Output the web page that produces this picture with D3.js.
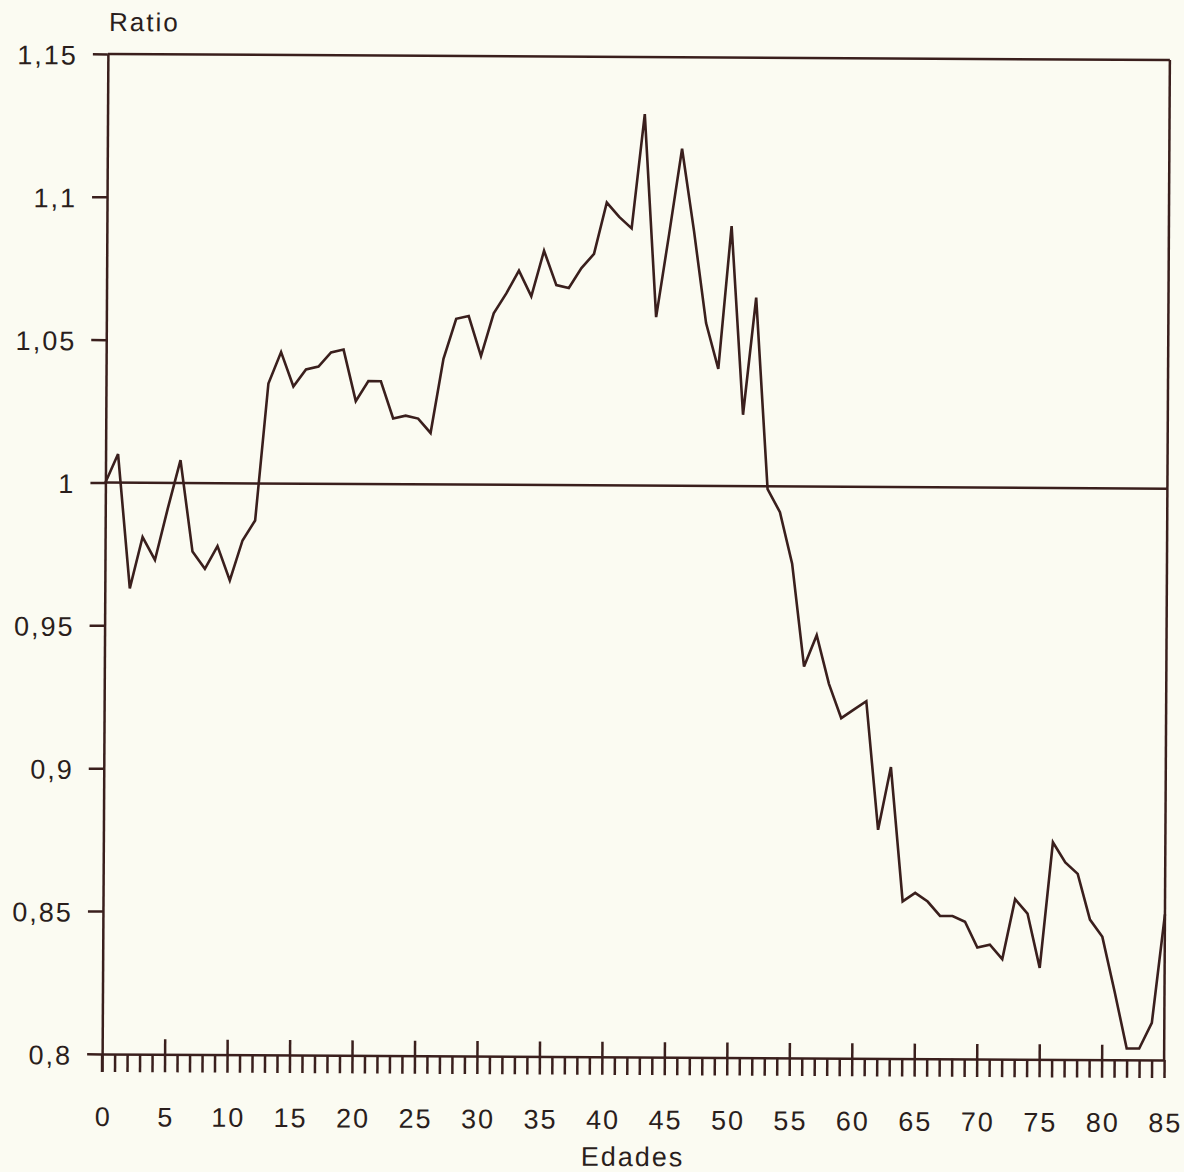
<!DOCTYPE html>
<html lang="es">
<head>
<meta charset="utf-8">
<title>Ratio por edades</title>
<script src="https://cdn.jsdelivr.net/npm/d3@7"></script>
<style type="text/css">
	body { margin: 0; background: #fbfbf2; }
	svg text { font-family: "Liberation Sans", Arial, sans-serif; fill: #2a1e1c; }
	.axis path, .axis line { stroke: #3a1f1d; stroke-width: 2.5px; }
</style>
</head>
<body>
<svg id="chart_svg" width="1184" height="1172"></svg>
<script type="text/javascript">

	// edades 0..85 y ratio
	var edades = d3.range(0, 86);
	var ratio = [
		1.000, 1.010, 0.963, 0.981, 0.973, 0.991, 1.008, 0.976, 0.970, 0.978,
		0.966, 0.980, 0.987, 1.035, 1.046, 1.034, 1.040, 1.041, 1.046, 1.047,
		1.029, 1.036, 1.036, 1.023, 1.024, 1.023, 1.018, 1.044, 1.058, 1.059,
		1.045, 1.060, 1.067, 1.075, 1.066, 1.082, 1.070, 1.069, 1.076, 1.081,
		1.099, 1.094, 1.090, 1.130, 1.059, 1.088, 1.118, 1.089, 1.057, 1.041,
		1.091, 1.025, 1.066, 0.999, 0.991, 0.973, 0.937, 0.948, 0.931, 0.919,
		0.922, 0.925, 0.880, 0.902, 0.855, 0.858, 0.855, 0.850, 0.850, 0.848,
		0.839, 0.840, 0.835, 0.856, 0.851, 0.832, 0.876, 0.869, 0.865, 0.849,
		0.843, 0.824, 0.804, 0.804, 0.813, 0.851
	];
	var yTicks = [0.8, 0.85, 0.9, 0.95, 1, 1.05, 1.1, 1.15];
	var xTicks = d3.range(0, 90, 5);
	var xMajor = d3.range(5, 85, 5);

	var svg = d3.select("#chart_svg");
	var lineColor = "#3a1f1d";

	svg.append("rect")
		.attr("width", 1184).attr("height", 1172)
		.attr("fill", "#fbfbf2");

	// the scan is a little tilted
	var g = svg.append("g").attr("transform", "rotate(0.33, 635, 557)");

	var x = d3.scaleLinear().domain([0, 85]).range([105, 1167]);
	var y = d3.scaleLinear().domain([0.8, 1.15]).range([1057, 57]);

	var es = d3.formatLocale({ decimal: ",", thousands: ".", grouping: [3], currency: ["", " €"] });
	var fmt = es.format("~g");

	// frame: top and right
	g.append("line")
		.attr("x1", x(0)).attr("x2", x(85))
		.attr("y1", y(1.15)).attr("y2", y(1.15))
		.attr("stroke", lineColor).attr("stroke-width", 2.5);
	g.append("line")
		.attr("x1", x(85)).attr("x2", x(85))
		.attr("y1", y(1.15)).attr("y2", y(0.8))
		.attr("stroke", lineColor).attr("stroke-width", 2.5);

	// reference line at 1
	g.append("line")
		.attr("x1", x(0)).attr("x2", x(85))
		.attr("y1", y(1)).attr("y2", y(1))
		.attr("stroke", lineColor).attr("stroke-width", 2.5);

	// y axis
	var yAxis = d3.axisLeft(y)
		.tickValues(yTicks)
		.tickSize(15)
		.tickSizeOuter(0)
		.tickPadding(15)
		.tickFormat(fmt);
	var gy = g.append("g")
		.attr("class", "axis")
		.attr("transform", "translate(" + x(0) + ",0)")
		.call(yAxis);
	gy.selectAll("text")
		.attr("font-size", 27)
		.attr("letter-spacing", "2px")
		.attr("dy", "0.38em");

	// x axis: minor ticks every year below the line
	g.append("g")
		.attr("class", "axis")
		.attr("transform", "translate(0," + y(0.8) + ")")
		.call(d3.axisBottom(x).tickValues(edades).tickSize(18).tickSizeOuter(0).tickFormat(""));

	// major ticks every 5 also cross above the line
	g.append("g")
		.attr("class", "axis")
		.attr("transform", "translate(0," + y(0.8) + ")")
		.call(d3.axisTop(x).tickValues(xMajor).tickSize(15).tickSizeOuter(0).tickFormat(""))
		.select(".domain").remove();

	// left axis continues down to the tick at 0
	g.append("line")
		.attr("x1", x(0)).attr("x2", x(0))
		.attr("y1", y(0.8)).attr("y2", y(0.8) + 18)
		.attr("stroke", lineColor).attr("stroke-width", 2.5);

	var gxLab = g.append("g")
		.attr("transform", "translate(0," + y(0.8) + ")")
		.call(d3.axisBottom(x).tickValues(xTicks).tickSize(0).tickPadding(53).tickFormat(d3.format("d")));
	gxLab.select(".domain").remove();
	gxLab.selectAll("text")
		.attr("font-size", 27)
		.attr("letter-spacing", "2px")
		.attr("dx", "1px");

	// data line
	var line = d3.line()
		.x(function (d, i) { return x(edades[i]); })
		.y(function (d) { return y(d); });

	g.append("path")
		.datum(ratio)
		.attr("d", line)
		.attr("fill", "none")
		.attr("stroke", lineColor)
		.attr("stroke-width", 2.6)
		.attr("stroke-linejoin", "miter");

	// titles
	g.append("text")
		.attr("x", 106)
		.attr("y", 34)
		.attr("font-size", 26)
		.attr("letter-spacing", "2px")
		.text("Ratio");

	g.append("text")
		.attr("x", 636)
		.attr("y", 1166)
		.attr("text-anchor", "middle")
		.attr("font-size", 27)
		.attr("letter-spacing", "2px")
		.text("Edades");

</script>
</body>
</html>
